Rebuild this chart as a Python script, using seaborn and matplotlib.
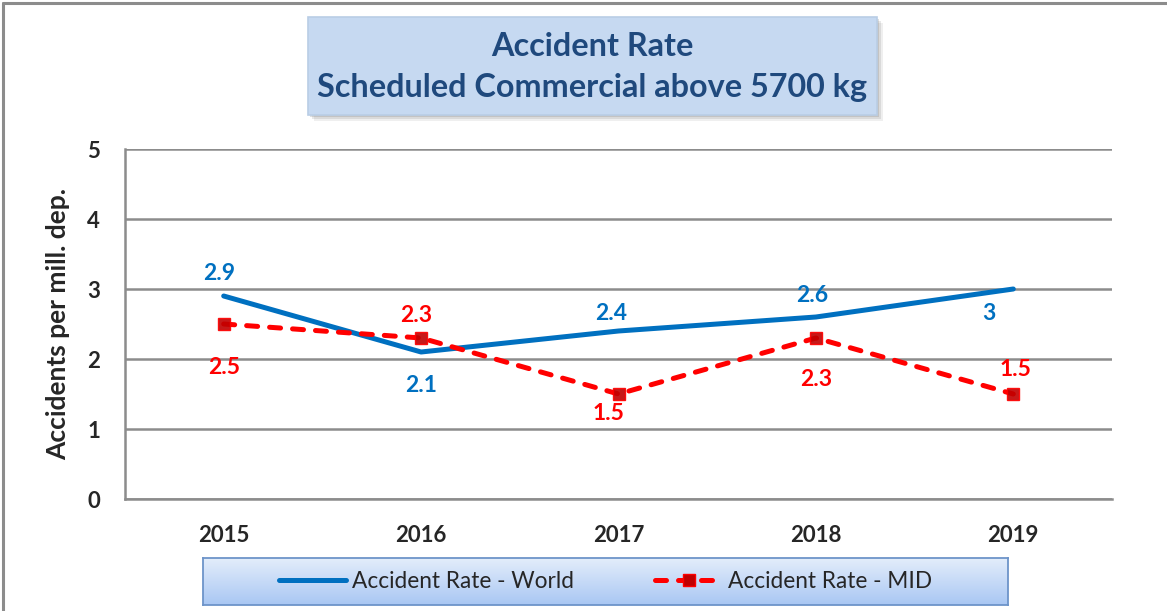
import numpy as np
import pandas as pd
import matplotlib
matplotlib.use("Agg")
import matplotlib.pyplot as plt
import seaborn as sns
from matplotlib.patches import Rectangle
from matplotlib.lines import Line2D

# Chart data
years = ["2015", "2016", "2017", "2018", "2019"]
world_rate = [2.9, 2.1, 2.4, 2.6, 3.0]
mid_rate = [2.5, 2.3, 1.5, 2.3, 1.5]
world_labels = ["2.9", "2.1", "2.4", "2.6", "3"]
mid_labels = ["2.5", "2.3", "1.5", "2.3", "1.5"]

# label offsets in pixels (layout only)
world_offsets = [(-5, 22), (0, -33), (-7, 17), (-4, 21), (-24, -24)]
mid_offsets = [(0, -44), (-5, 22), (-10, -20), (0, -41), (2, 24)]

BLUE = "#0070C0"
RED = "#FF0000"
DARKRED = "#C00000"
GRID = "#8C8C8C"
TITLE_BLUE = "#1F497D"
LW = 3.6
DASH = (0, (2.2, 2.4))

sns.set_style("white")
plt.rcParams["font.family"] = ["Lato", "DejaVu Sans"]

fig = plt.figure(figsize=(11.67, 6.11), dpi=100)
W, H = 1167, 611


def fx(px):
    return px / W


def fy(py):
    return 1 - py / H


ax = fig.add_axes([fx(125), fy(499), fx(1112) - fx(125), fy(149) - fy(499)])

df = pd.DataFrame({"pos": np.arange(len(years)), "world": world_rate, "mid": mid_rate})

sns.lineplot(data=df, x="pos", y="world", ax=ax, color=BLUE, linewidth=LW,
             solid_capstyle="round", zorder=3)
sns.lineplot(data=df, x="pos", y="mid", ax=ax, color=RED, linewidth=LW,
             dashes=False, zorder=4)
ax.lines[-1].set_linestyle(DASH)
ax.lines[-1].set_dash_capstyle("round")
ax.plot(df["pos"], df["mid"], linestyle="none", marker="s", markersize=8.5,
        markerfacecolor=DARKRED, markeredgecolor=RED, markeredgewidth=1.0,
        alpha=0.9, zorder=5)

for i in range(len(years)):
    ax.annotate(world_labels[i], (i, world_rate[i]), xytext=world_offsets[i],
                textcoords="offset pixels", ha="center", va="center",
                color=BLUE, fontsize=16.5, fontweight="bold", zorder=6)
    ax.annotate(mid_labels[i], (i, mid_rate[i]), xytext=mid_offsets[i],
                textcoords="offset pixels", ha="center", va="center",
                color=RED, fontsize=16.5, fontweight="bold", zorder=6)

ax.set_xlim(-0.5, len(years) - 0.5)
ax.set_ylim(0, 5)
ax.set_yticks(range(0, 6))
ax.set_xticks(np.arange(len(years)))
ax.set_xticklabels(years)
ax.set_xticks(np.arange(-0.5, len(years)), minor=True)
ax.tick_params(axis="x", which="major", length=0, pad=19, labelsize=16)
ax.tick_params(axis="x", which="minor", length=8, width=1.8, color=GRID, direction="out")
ax.tick_params(axis="y", length=8, width=1.8, color=GRID, direction="out", pad=10,
               labelsize=16)
for lab in ax.get_xticklabels() + ax.get_yticklabels():
    lab.set_fontweight("bold")

ax.grid(axis="y", color=GRID, linewidth=1.8)
ax.set_axisbelow(True)
for side in ["top", "right"]:
    ax.spines[side].set_visible(False)
for side in ["left", "bottom"]:
    ax.spines[side].set_color(GRID)
    ax.spines[side].set_linewidth(1.8)
ax.set_xlabel("")
ax.set_ylabel("Accidents per mill. dep.", fontsize=19, fontweight="bold", labelpad=12)

# figure border (top and left)
fig.add_artist(Line2D([fx(3), 1], [fy(3), fy(3)], color="#8C8C8C", linewidth=2.2))
fig.add_artist(Line2D([fx(3), fx(3)], [0, fy(3)], color="#8C8C8C", linewidth=2.2))

# title box with soft shadow
for k, a in [(6, 0.12), (4, 0.18), (2, 0.25)]:
    fig.add_artist(Rectangle((fx(308 + k), fy(115 + k)), fx(877) - fx(308), fy(17) - fy(115),
                             facecolor="#808080", edgecolor="none", alpha=a, zorder=1))
fig.add_artist(Rectangle((fx(308), fy(115)), fx(877) - fx(308), fy(17) - fy(115),
                         facecolor="#C6D9F1", edgecolor="#B9CDE5", linewidth=1.2, zorder=2))
fig.text(fx(592), fy(46), "Accident Rate", ha="center", va="center",
         fontsize=23.3, fontweight="bold", color=TITLE_BLUE, zorder=3)
fig.text(fx(592), fy(88), "Scheduled Commercial above 5700 kg", ha="center", va="center",
         fontsize=23.3, fontweight="bold", color=TITLE_BLUE, zorder=3)

# legend box with vertical gradient
lax = fig.add_axes([fx(203), fy(605), fx(1008) - fx(203), fy(558) - fy(605)])
grad = np.linspace(0, 1, 100).reshape(-1, 1)
cmap = matplotlib.colors.LinearSegmentedColormap.from_list("lg", ["#E3EDFB", "#A9C7F3"])
lax.imshow(grad, aspect="auto", cmap=cmap, extent=[0, 1, 0, 1], origin="upper")
lax.set_xticks([])
lax.set_yticks([])
for s in lax.spines.values():
    s.set_color("#6D94C9")
    s.set_linewidth(1.3)

h_world = Line2D([], [], color=BLUE, linewidth=LW, solid_capstyle="round")
h_mid = Line2D([], [], color=RED, linewidth=LW, linestyle=DASH, dash_capstyle="round",
               marker="s", markersize=8.5, markerfacecolor=DARKRED, markeredgecolor=RED)
lax.legend([h_world, h_mid], ["Accident Rate - World", "Accident Rate - MID"],
           loc="center", ncol=2, frameon=False, fontsize=16.3, handlelength=2.95,
           handletextpad=0.25, columnspacing=3.6)

fig.savefig("out.png", dpi=100)
